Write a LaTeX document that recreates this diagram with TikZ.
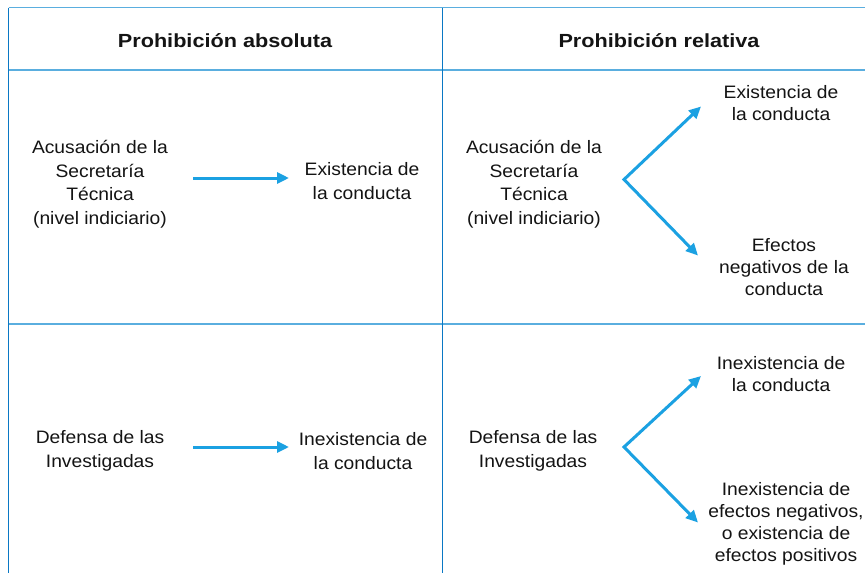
\documentclass[tikz,border=0pt]{standalone}
\usepackage{fontspec}
\setmainfont{Liberation Sans}[FakeStretch=1.07]
\newfontfamily\hdfont{Liberation Sans}[FakeStretch=1.14]
\usetikzlibrary{arrows.meta}
\definecolor{gridlight}{HTML}{5AAEDF}
\definecolor{griddark}{HTML}{0A78C4}
\definecolor{arrowc}{HTML}{1BA1E2}
\definecolor{txt}{HTML}{141414}
\tikzset{
  cell/.style={align=center, inner sep=0pt, text=txt, font=\fontsize{18}{23.5}\selectfont},
  rcell/.style={align=center, inner sep=0pt, text=txt, font=\fontsize{18}{22}\selectfont},
  head/.style={inner sep=0pt, text=txt, font=\hdfont\bfseries\fontsize{19}{22}\selectfont},
  hline/.style={draw=gridlight, line width=2pt},
  vline/.style={draw=griddark, line width=1.6pt},
  tip/.tip={Triangle[length=12pt,width=11pt]},
  arr/.style={draw=arrowc, line width=3pt, -tip},
  varr/.style={draw=arrowc, line width=3pt, line join=miter, tip-tip},
}
\begin{document}
\begin{tikzpicture}[x=1pt,y=-1pt]
\useasboundingbox (0,0) rectangle (865,573);
\fill[white] (0,0) rectangle (865,573);
\begin{scope}
\clip (0,0) rectangle (865,573);
% grid
\draw[hline, line width=1.5pt] (8.5,7.5) -- (870,7.5);
\draw[hline] (8.5,70) -- (870,70);
\draw[hline] (8.5,323.5) -- (870,323.5);
\draw[vline] (8.5,7.5) -- (8.5,580);
\draw[vline] (442.5,7.5) -- (442.5,580);
\end{scope}
% headers
\node[head] (h1) at (225,41) {Prohibición absoluta};
\node[head] (h2) at (659,41) {Prohibición relativa};
% row 1 left
\node[cell] (a1) at (100,184) {Acusación de la\\Secretaría\\Técnica\\(nivel indiciario)};
\node[cell] (a2) at (362,181) {Existencia de\\la conducta};
\coordinate (a1s) at (193,178);
\coordinate (a2e) at (289,178);
\draw[arr] (a1s) -- (a2e);
% row 1 right
\node[cell] (b1) at (534,184) {Acusación de la\\Secretaría\\Técnica\\(nivel indiciario)};
\node[rcell] (b2) at (781,103) {Existencia de\\la conducta};
\node[rcell] (b3) at (784,267) {Efectos\\negativos de la\\conducta};
\coordinate (bv) at (624,179.5);
\coordinate (bt) at (701,106.5);
\coordinate (bb) at (698,255.5);
\draw[varr] (bt) -- (bv) -- (bb);
% row 2 left
\node[cell] (c1) at (100,451) {Defensa de las\\Investigadas};
\node[cell] (c2) at (363,451) {Inexistencia de\\la conducta};
\coordinate (c1s) at (193,447);
\coordinate (c2e) at (289,447);
\draw[arr] (c1s) -- (c2e);
% row 2 right
\node[cell] (d1) at (533,451) {Defensa de las\\Investigadas};
\node[rcell] (d2) at (781,374) {Inexistencia de\\la conducta};
\node[rcell] (d3) at (786,524) {Inexistencia de\\efectos negativos,\\o existencia de\\efectos positivos};
\coordinate (dv) at (624,447);
\coordinate (dt) at (701,376);
\coordinate (db) at (698,522.5);
\draw[varr] (dt) -- (dv) -- (db);
\end{tikzpicture}
\end{document}
